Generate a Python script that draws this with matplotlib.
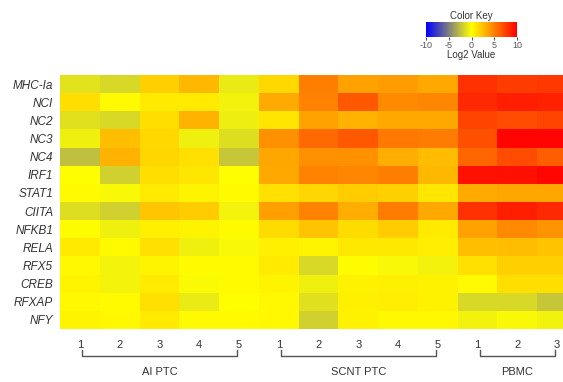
import numpy as np
import matplotlib.pyplot as plt
from matplotlib.colors import LinearSegmentedColormap

plt.rcParams['font.family'] = ['Liberation Sans', 'DejaVu Sans']
plt.rcParams['axes.unicode_minus'] = False

genes = ['MHC-Ia', 'NCI', 'NC2', 'NC3', 'NC4', 'IRF1', 'STAT1', 'CIITA',
         'NFKB1', 'RELA', 'RFX5', 'CREB', 'RFXAP', 'NFY']
groups = ['AI PTC', 'SCNT PTC', 'PBMC']
group_sizes = [5, 5, 3]

# log2 values, columns: AI PTC 1-5
ai_ptc = [
    [-1.1, -1.5, 1.8, 2.8, -0.8],
    [1.3, 0.2, 0.8, 0.8, -0.5],
    [-1.2, -1.5, 1.3, 3.0, -0.7],
    [-0.6, 2.5, 1.5, -0.6, -1.3],
    [-2.5, 3.0, 1.6, 1.2, -2.2],
    [0.0, -1.8, 1.3, 1.0, 0.0],
    [0.2, -0.3, 0.8, 0.4, 0.2],
    [-1.3, -1.8, 2.2, 2.0, -0.4],
    [0.1, -0.6, 0.6, 0.4, 0.2],
    [0.8, 0.2, 1.2, -0.6, -0.3],
    [0.3, -0.4, 0.4, 0.2, 0.2],
    [0.4, -0.4, 0.8, -0.2, 0.2],
    [0.3, 0.2, 1.2, -0.8, 0.0],
    [0.4, 0.3, 0.8, 0.2, 0.2],
]
# SCNT PTC 1-5
scnt_ptc = [
    [1.5, 5.0, 3.6, 3.9, 3.4],
    [3.3, 4.9, 6.5, 4.6, 4.7],
    [1.0, 3.6, 3.0, 3.4, 3.4],
    [4.3, 5.8, 6.5, 5.3, 5.1],
    [3.5, 4.3, 4.3, 3.2, 2.6],
    [3.4, 4.9, 4.7, 5.0, 2.8],
    [1.2, 1.6, 2.0, 1.8, 1.0],
    [3.7, 4.9, 3.2, 5.1, 3.4],
    [1.4, 2.3, 1.4, 2.0, 0.8],
    [0.6, 0.4, 0.9, 0.9, 0.7],
    [0.8, -1.5, 0.1, -0.3, -0.5],
    [0.4, -0.6, 0.5, 0.6, 0.5],
    [0.3, -1.2, 0.6, 0.7, 0.5],
    [0.3, -1.8, 0.5, 0.3, 0.3],
]
# PBMC 1-3
pbmc = [
    [8.0, 7.6, 7.8],
    [8.3, 8.8, 8.6],
    [7.3, 7.0, 7.3],
    [6.8, 9.8, 9.8],
    [6.0, 7.0, 6.3],
    [9.3, 9.3, 9.7],
    [3.3, 3.5, 3.5],
    [8.0, 8.8, 8.3],
    [3.6, 4.6, 4.2],
    [2.5, 2.6, 2.3],
    [1.2, 1.8, 1.8],
    [0.2, 1.3, 1.3],
    [-1.5, -1.5, -2.2],
    [-0.5, -0.3, -0.5],
]

data = np.hstack([np.array(ai_ptc), np.array(scnt_ptc), np.array(pbmc)])
col_labels = [str(i + 1) for n in group_sizes for i in range(n)]

cmap = LinearSegmentedColormap.from_list('key', ['#0000ff', '#ffff00', '#ff0000'])
text_color = '#333333'

fig = plt.figure(figsize=(5.63, 3.82), dpi=100)

# heatmap (last column runs past the right edge, as in the source)
ax = fig.add_axes([60 / 563, 1 - 329 / 382, 517 / 563, 254 / 382])
ax.imshow(data, cmap=cmap, vmin=-10, vmax=10, aspect='auto',
          interpolation='nearest')
ax.set_yticks(range(len(genes)))
ax.set_yticklabels(genes, fontsize=8.5, style='italic', color=text_color)
ax.set_xticks(range(data.shape[1]))
ax.set_xticklabels(col_labels, fontsize=8, color=text_color)
ax.tick_params(length=0, pad=5)
ax.tick_params(axis='x', pad=8)
for s in ax.spines.values():
    s.set_visible(False)

# group brackets
trans = ax.get_xaxis_transform()
start = 0
for name, n in zip(groups, group_sizes):
    x0, x1 = start + 0.05, start + n - 1 - 0.05
    ax.plot([x0, x0, x1, x1], [-0.083, -0.106, -0.106, -0.083], color='#555555',
            lw=1, transform=trans, clip_on=False)
    ax.text((x0 + x1) / 2, -0.17, name, transform=trans, ha='center',
            va='center', fontsize=8, color=text_color)
    start += n

# colour key
cax = fig.add_axes([426 / 563, 1 - 37 / 382, 91 / 563, 15 / 382])
cb = fig.colorbar(ax.images[0], cax=cax, orientation='horizontal',
                  ticks=[-10, -5, 0, 5, 10])
cb.outline.set_visible(False)
cax.tick_params(labelsize=6.5, length=2, pad=1, colors='#555555')
cax.set_title('Color Key', fontsize=7, color=text_color, pad=2)
cax.set_xlabel('Log2 Value', fontsize=7, color=text_color, labelpad=0)

fig.savefig('out.png', dpi=100)
